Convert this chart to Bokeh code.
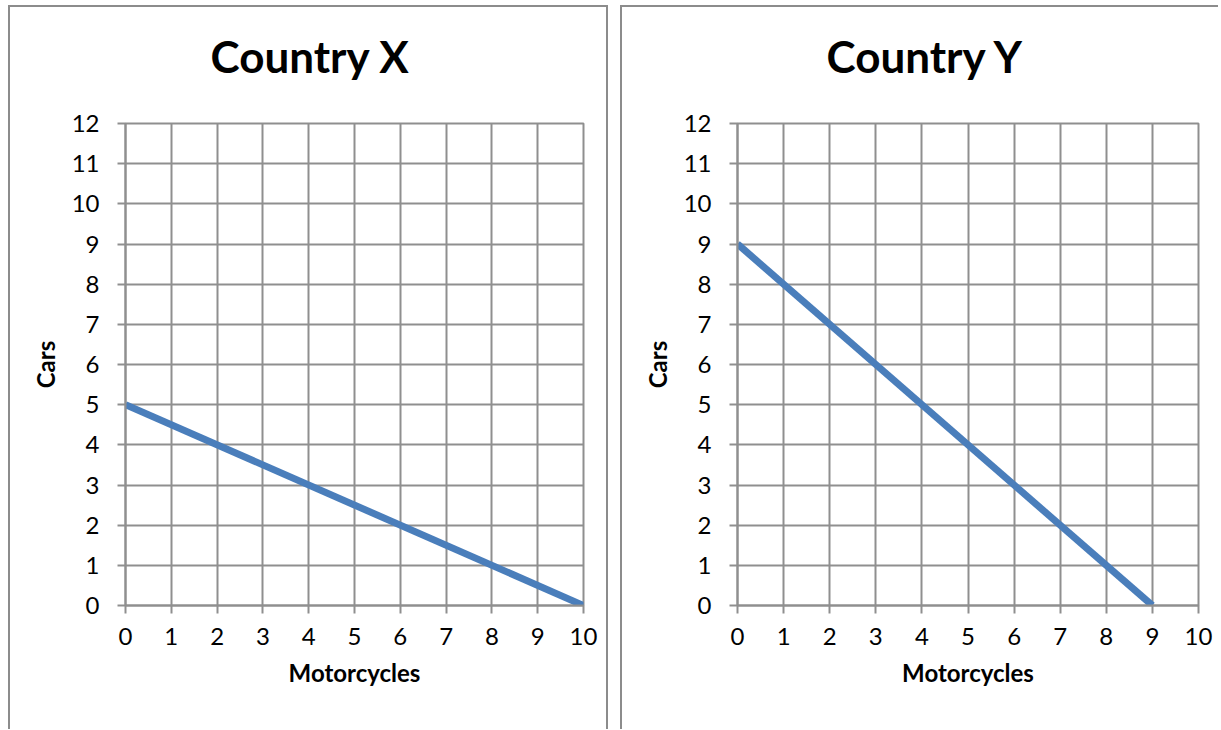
from bokeh.plotting import figure
from bokeh.layouts import row
from bokeh.models import Range1d, SingleIntervalTicker, Title
from bokeh.embed import file_html
from bokeh.resources import INLINE

# ---- data ----
x_ticks = list(range(0, 11))
y_ticks = list(range(0, 13))
country_x_motorcycles = [0, 10]
country_x_cars = [5, 0]
country_y_motorcycles = [0, 9]
country_y_cars = [9, 0]
titles = ["Country X", "Country Y"]
x_label = "Motorcycles"
y_label = "Cars"

FONT = "Lato"
GRID = "#8f8f8f"
LINE = "#4a7ebb"
BORDER = "2px solid #8c8c8c"


def make_panel(title, xs, ys, width, height, frame_w, title_offset, styles):
    canvas_w = width - (4 if "border-right" in styles else 2)
    canvas_h = height - 2
    p = figure(width=width, height=height, output_backend="svg", toolbar_location=None,
               x_range=Range1d(0, 10), y_range=Range1d(0, 12),
               min_border_left=115, min_border_right=canvas_w - 115 - frame_w,
               min_border_top=116, min_border_bottom=canvas_h - 116 - 480,
               background_fill_color="white", border_fill_color="white",
               outline_line_color=GRID, outline_line_width=2,
               styles=styles)
    # spacer panel between frame and title (closest to the frame)
    spacer = Title(text=" ", text_font=FONT, text_font_size="10px", standoff=28)
    p.add_layout(spacer, "above")
    t = Title(text=title, align="left", offset=title_offset,
              text_font=FONT, text_font_size="44px", text_font_style="bold",
              text_color="black", standoff=0)
    p.add_layout(t, "above")

    for ax in (p.xaxis[0], p.yaxis[0]):
        ax.axis_line_color = GRID
        ax.axis_line_width = 2
        ax.major_tick_line_color = GRID
        ax.major_tick_line_width = 2
        ax.major_tick_out = 8
        ax.major_tick_in = 0
        ax.minor_tick_line_color = None
        ax.major_label_text_font = FONT
        ax.major_label_text_font_size = "24px"
        ax.major_label_text_color = "black"
        ax.axis_label_text_font = FONT
        ax.axis_label_text_font_size = "24px"
        ax.axis_label_text_font_style = "bold"
        ax.axis_label_text_color = "black"
    p.xaxis.ticker = SingleIntervalTicker(interval=1)
    p.yaxis.ticker = SingleIntervalTicker(interval=1)
    p.xaxis.axis_label = x_label
    p.yaxis.axis_label = y_label
    p.xaxis.major_label_standoff = 14
    p.yaxis.major_label_standoff = 18
    p.xaxis.axis_label_standoff = 10
    p.yaxis.axis_label_standoff = 9

    p.xgrid.grid_line_color = GRID
    p.ygrid.grid_line_color = GRID
    p.xgrid.grid_line_width = 2
    p.ygrid.grid_line_width = 2
    p.xgrid.ticker = SingleIntervalTicker(interval=1)
    p.ygrid.ticker = SingleIntervalTicker(interval=1)

    p.line(xs, ys, line_color=LINE, line_width=7, line_cap="butt")
    return p


p1 = make_panel(titles[0], country_x_motorcycles, country_x_cars, 600, 724, 454, 85,
                {"border-top": BORDER, "border-left": BORDER, "border-right": BORDER,
                 "box-sizing": "border-box", "margin-left": "8px", "margin-top": "5px"})
p2 = make_panel(titles[1], country_y_motorcycles, country_y_cars, 598, 724, 459, 89,
                {"border-top": BORDER, "border-left": BORDER,
                 "box-sizing": "border-box", "margin-top": "5px"})

layout = row(p1, p2, spacing=12)
open("out.html", "w").write(file_html(layout, INLINE))
